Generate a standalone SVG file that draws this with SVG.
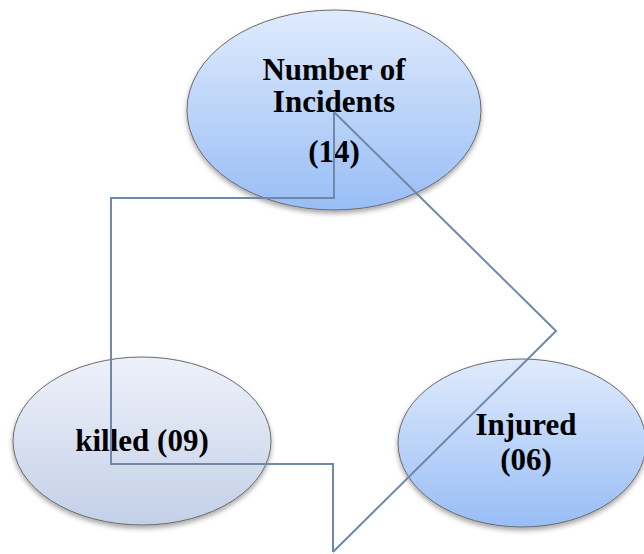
<svg xmlns="http://www.w3.org/2000/svg" width="644" height="554" viewBox="0 0 644 554">
<defs>
<linearGradient id="gBlue" x1="0" y1="0" x2="0" y2="1">
<stop offset="0" stop-color="#e0ebfc"/>
<stop offset="1" stop-color="#98bdf6"/>
</linearGradient>
<linearGradient id="gGray" x1="0" y1="0" x2="0" y2="1">
<stop offset="0" stop-color="#eef1fa"/>
<stop offset="1" stop-color="#c3d0e8"/>
</linearGradient>
<filter id="sh" x="-10%" y="-10%" width="120%" height="130%">
<feDropShadow dx="0" dy="3" stdDeviation="2.5" flood-color="#000" flood-opacity="0.35"/>
</filter>
<style>
.node ellipse{stroke:#6a6a6a;stroke-width:1;filter:url(#sh)}
.lbl{font-family:"Liberation Serif","Times New Roman",serif;font-weight:bold;font-size:31px;fill:#000;text-anchor:middle}
.conn{fill:none;stroke:#7088a8;stroke-width:2}
</style>
</defs>
<g id="node-incidents" class="node">
<ellipse cx="334" cy="110" rx="147" ry="100" fill="url(#gBlue)"/>
<text class="lbl" x="334" y="80">Number of</text>
<text class="lbl" x="334" y="112">Incidents</text>
<text class="lbl" x="334" y="162">(14)</text>
</g>
<g id="node-killed" class="node">
<ellipse cx="142" cy="441" rx="129" ry="84" fill="url(#gGray)"/>
<text class="lbl" x="142" y="451">killed (09)</text>
</g>
<g id="node-injured" class="node">
<ellipse cx="522" cy="443" rx="124" ry="84" fill="url(#gBlue)"/>
<text class="lbl" x="526" y="435">Injured</text>
<text class="lbl" x="526" y="470">(06)</text>
</g>
<g id="connectors">
<path class="conn" d="M334,112 V198 H111 V464 H333 V552"/>
<path class="conn" d="M334,112 L556,331 L333,552"/>
</g>
</svg>
